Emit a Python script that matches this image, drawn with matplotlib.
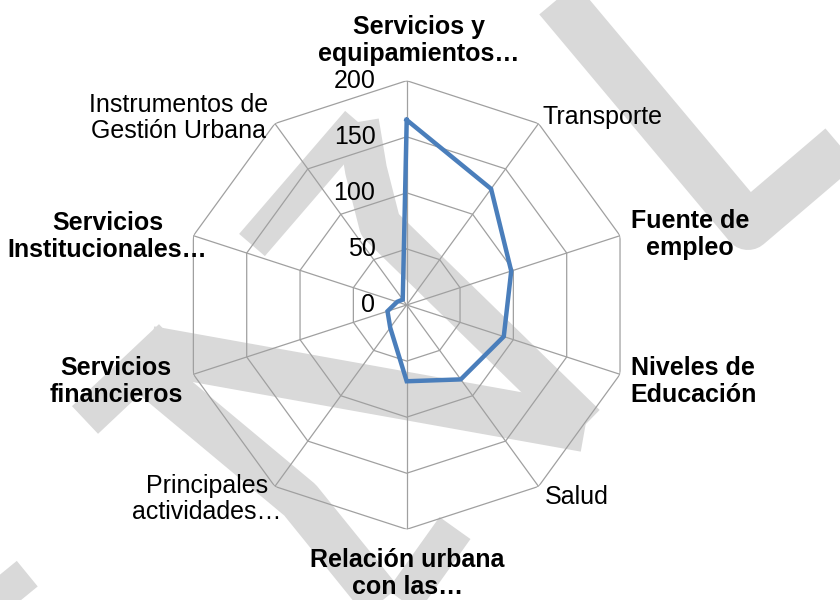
import numpy as np
import matplotlib
matplotlib.use("Agg")
import matplotlib.pyplot as plt
from matplotlib.lines import Line2D

# ---------------- data ----------------
categories = ["Servicios y\nequipamientos…", "Transporte", "Fuente de\nempleo",
              "Niveles de\nEducación", "Salud", "Relación urbana\ncon las…",
              "Principales\nactividades…", "Servicios\nfinancieros",
              "Servicios\nInstitucionales…", "Instrumentos de\nGestión Urbana"]
values = [165, 128, 98, 91, 82, 68, 25, 18, 9, 6]
ticks = [0, 50, 100, 150, 200]
tick_labels = ["0", "50", "100", "150", "200"]

# ---------------- layout ----------------
W, H = 840, 600
fig = plt.figure(figsize=(W / 100, H / 100), dpi=100)
fig.patch.set_facecolor("white")
plt.rcParams["font.family"] = ["Liberation Sans", "DejaVu Sans"]

def fx(x):
    return x / W

def fy(y):
    return 1 - y / H

# light grey watermark strokes (decoration behind the chart)
wm = "#d9d9d9"
strokes = [
    ([(525, -40), (748, 226), (870, 122)], 48),
    ([(252, 245), (358, 122)], 34),
    ([(358, 122), (366, 170), (380, 225), (585, 425)], 42),
    ([(150, 350), (585, 428)], 48),
    ([(85, 420), (172, 338)], 38),
    ([(150, 375), (300, 500), (393, 615)], 44),
    ([(393, 615), (455, 528)], 38),
    ([(-30, 540), (60, 650)], 46),
]
for pts, w in strokes:
    xs = [fx(p[0]) for p in pts]
    ys = [fy(p[1]) for p in pts]
    fig.add_artist(Line2D(xs, ys, color=wm, lw=w * 0.72, solid_joinstyle="round",
                          solid_capstyle="butt", zorder=0))

cx, cy, R = 406.7, 305.0, 224.3
ax = fig.add_axes([(cx - R) / W, (H - cy - R) / H, 2 * R / W, 2 * R / H],
                  projection="polar")
ax.set_theta_zero_location("N")
ax.set_theta_direction(-1)
ax.set_ylim(0, ticks[-1])
ax.grid(False)
ax.spines["polar"].set_visible(False)
ax.set_xticks([])
ax.set_yticks([])
ax.patch.set_alpha(0)
ax.set_zorder(2)

n = len(categories)
ang = np.arange(n) * 2 * np.pi / n
closed = np.append(ang, ang[0])
grid_c = "#a0a0a0"
for t in ticks[1:]:
    ax.plot(closed, [t] * (n + 1), color=grid_c, lw=0.9, zorder=1)
for a in ang:
    ax.plot([a, a], [0, ticks[-1]], color=grid_c, lw=0.9, zorder=1)

ax.plot(closed, values + [values[0]], color="#4a7ebb", lw=3.2, zorder=3,
        solid_joinstyle="miter")

fs = 18
for t, lab in zip(ticks, tick_labels):
    ax.annotate(lab, xy=(0, t), xytext=(-22.5, 0), textcoords="offset points",
                ha="right", va="center", fontsize=fs, color="black")

# label placement: (ha, dx px, dy px, bold)
label_style = [
    ("center", 12, -40, True),
    ("left", 4, -7, False),
    ("left", 11, -1, True),
    ("left", 10, 7, True),
    ("left", 6, 11, False),
    ("center", 0.5, 44, True),
    ("right", 7, 12.5, False),
    ("right", -10.5, 7.5, True),
    ("right", 14, 1, True),
    ("right", -7, -5.5, False),
]
for a, lab, (ha, dx, dy, bold) in zip(ang, categories, label_style):
    ax.annotate(lab, xy=(a, ticks[-1]), xytext=(dx * 0.72, -dy * 0.72),
                textcoords="offset points", ha=ha, va="center",
                multialignment="center", fontsize=fs, linespacing=1.15,
                fontweight="bold" if bold else "normal", color="black",
                annotation_clip=False)

fig.savefig("out.png", dpi=100, facecolor="white")
